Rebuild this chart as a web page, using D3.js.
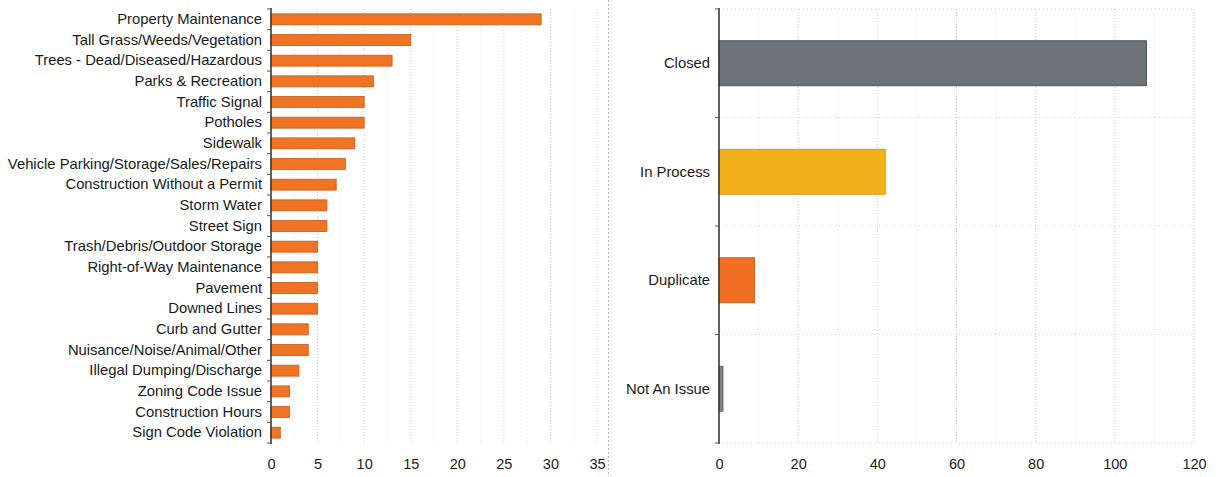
<!DOCTYPE html>
<html>
<head>
<meta charset="utf-8">
<script src="https://cdn.jsdelivr.net/npm/d3@7"></script>
<style>
  html, body { margin: 0; padding: 0; background: #fff; }
  svg { display: block; font-family: "Liberation Sans", Arial, sans-serif; }
</style>
</head>
<body>
<svg id="chart" width="1219" height="477"></svg>
<script>
// Service requests by type
const requestTypes = [
  "Property Maintenance", "Tall Grass/Weeds/Vegetation", "Trees - Dead/Diseased/Hazardous",
  "Parks & Recreation", "Traffic Signal", "Potholes", "Sidewalk",
  "Vehicle Parking/Storage/Sales/Repairs", "Construction Without a Permit", "Storm Water",
  "Street Sign", "Trash/Debris/Outdoor Storage", "Right-of-Way Maintenance", "Pavement",
  "Downed Lines", "Curb and Gutter", "Nuisance/Noise/Animal/Other",
  "Illegal Dumping/Discharge", "Zoning Code Issue", "Construction Hours", "Sign Code Violation"
];
const requestCounts = [29, 15, 13, 11, 10, 10, 9, 8, 7, 6, 6, 5, 5, 5, 5, 4, 4, 3, 2, 2, 1];
const typeTicks = [0, 5, 10, 15, 20, 25, 30, 35];

// Service requests by status
const statuses = ["Closed", "In Process", "Duplicate", "Not An Issue"];
const statusCounts = [108, 42, 9, 1];
const statusColors = ["#6c7479", "#f2b01a", "#f06e22", "#7d858a"];
const statusStrokes = ["#3c4246", "#c98f0c", "#c4531a", "#4a5054"];
const statusTicks = [0, 20, 40, 60, 80, 100, 120];

const svg = d3.select("#chart");
svg.append("rect").attr("width", 1219).attr("height", 477).attr("fill", "#fff");

const textColor = "#1a1a1a";
const gridColor = "#c9c9c9";

function panel(opts) {
  const g = svg.append("g");
  const x = d3.scaleLinear().domain(opts.domain).range([opts.x0, opts.x1]);
  const y = d3.scaleBand().domain(opts.cats).range([opts.y0, opts.y1])
    .paddingInner(opts.pad).paddingOuter(opts.pad / 2);

  // minor gridlines
  g.append("g").selectAll("line").data(opts.minor).join("line")
    .attr("x1", d => x(d)).attr("x2", d => x(d))
    .attr("y1", opts.y0).attr("y2", opts.y1)
    .attr("stroke", "#dedede").attr("stroke-width", 1)
    .attr("stroke-dasharray", "1,3");

  // major gridlines
  g.append("g").selectAll("line").data(opts.ticks.slice(1)).join("line")
    .attr("x1", d => x(d)).attr("x2", d => x(d))
    .attr("y1", opts.y0).attr("y2", opts.y1)
    .attr("stroke", gridColor).attr("stroke-width", 1)
    .attr("stroke-dasharray", "1,2");

  // horizontal band separators
  if (opts.hgrid) {
    const edges = opts.cats.map(c => y(c) - y.step() * y.paddingInner() / 2);
    edges.push(opts.y1);
    g.append("g").selectAll("line").data(edges).join("line")
      .attr("x1", opts.x0).attr("x2", opts.x1)
      .attr("y1", d => d).attr("y2", d => d)
      .attr("stroke", "#d6d6d6").attr("stroke-dasharray", "1,3");
  }

  // bars
  g.append("g").selectAll("rect").data(opts.values).join("rect")
    .attr("x", x(0))
    .attr("y", (d, i) => y(opts.cats[i]))
    .attr("width", d => x(d) - x(0))
    .attr("height", y.bandwidth())
    .attr("fill", (d, i) => opts.fill(i))
    .attr("stroke", (d, i) => opts.stroke(i))
    .attr("stroke-width", 0.8);

  // category axis
  const yAxis = d3.axisLeft(y).tickSize(0).tickPadding(opts.labelPad);
  const ya = g.append("g").attr("transform", `translate(${opts.x0},0)`).call(yAxis);
  ya.select(".domain").remove();
  ya.selectAll("text").attr("fill", textColor).style("font-size", "14.8px");

  // axis line and band-edge ticks
  g.append("line").attr("x1", opts.x0).attr("x2", opts.x0)
    .attr("y1", opts.y0 - 1).attr("y2", opts.y1 + 1)
    .attr("stroke", "#3a3a3a").attr("stroke-width", 1.6);
  const bandEdges = opts.cats.map(c => y(c) - y.step() * y.paddingInner() / 2);
  bandEdges.push(opts.y1);
  g.append("g").selectAll("line").data(bandEdges).join("line")
    .attr("x1", opts.x0 - 4).attr("x2", opts.x0)
    .attr("y1", d => d).attr("y2", d => d)
    .attr("stroke", "#555").attr("stroke-width", 1);

  // value axis
  const xAxis = d3.axisBottom(x).tickValues(opts.ticks).tickSize(0).tickPadding(0)
    .tickFormat(d3.format("d"));
  const xa = g.append("g").attr("transform", `translate(0,${opts.tickY})`).call(xAxis);
  xa.select(".domain").remove();
  xa.selectAll("text").attr("fill", textColor).style("font-size", "14.5px");
}

panel({
  cats: requestTypes, values: requestCounts, domain: [0, 35], ticks: typeTicks,
  minor: [2.5, 7.5, 12.5, 17.5, 22.5, 27.5, 32.5],
  x0: 271, x1: 597, y0: 9, y1: 443, pad: 0.47, labelPad: 9, tickY: 459,
  fill: () => "#ef7424", stroke: () => "#c85a1c", hgrid: false
});

panel({
  cats: statuses, values: statusCounts, domain: [0, 120], ticks: statusTicks,
  minor: [10, 30, 50, 70, 90, 110],
  x0: 719, x1: 1194, y0: 9, y1: 443, pad: 0.585, labelPad: 9, tickY: 459,
  fill: i => statusColors[i], stroke: i => statusStrokes[i], hgrid: true
});

// panel separator
svg.append("line").attr("x1", 608.5).attr("x2", 608.5).attr("y1", 0).attr("y2", 477)
  .attr("stroke", "#bdbdbd").attr("stroke-dasharray", "2,2");
</script>
</body>
</html>
